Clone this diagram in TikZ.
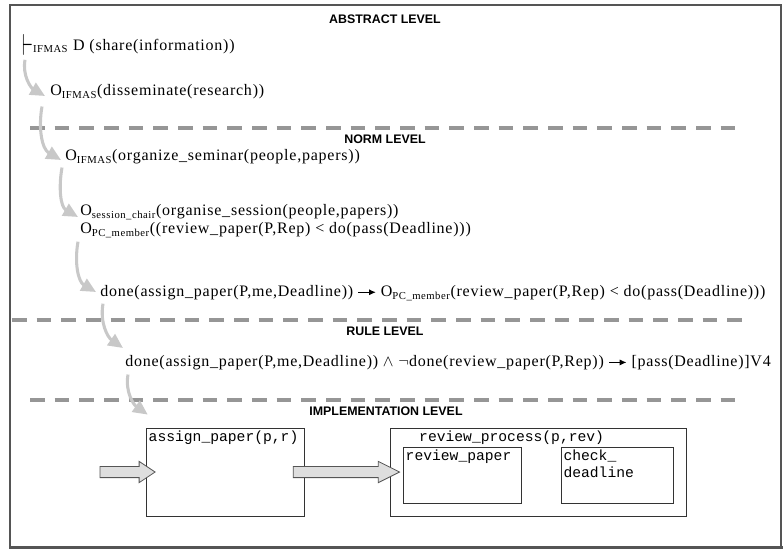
\documentclass[tikz,border=0pt]{standalone}
\usepackage{graphicx}
\usepackage{fontspec}
\setmainfont{Liberation Serif}[LetterSpace=4.8]
\setsansfont{Liberation Sans}
\setmonofont{Liberation Mono}
\usetikzlibrary{positioning,arrows.meta}
\definecolor{framegrey}{RGB}{85,85,85}
\definecolor{dashgrey}{RGB}{150,150,150}
\definecolor{flowgrey}{RGB}{200,200,200}
\definecolor{arrowfill}{RGB}{222,222,222}
\newcommand{\lsub}[1]{\textsubscript{#1}}
\newcommand{\thenarrow}{\tikz[baseline=-0.6ex]\draw[line width=0.6pt,-{Latex[length=5pt,width=4.5pt]}] (0,0) -- (13pt,0);}
% block arrow between two points at the same height
\newcommand{\blockarrow}[3]{%
  \filldraw[blockarr] ([yshift=4.2pt]#1) -- ([xshift=-#3,yshift=4.2pt]#2)
    -- ([xshift=-#3,yshift=8pt]#2) -- (#2) -- ([xshift=-#3,yshift=-8pt]#2)
    -- ([xshift=-#3,yshift=-4.2pt]#2) -- ([yshift=-4.2pt]#1) -- cycle;}
\tikzset{
  expr/.style={anchor=west, inner sep=0pt, font=\fontsize{12}{14}\selectfont},
  levelhead/.style={inner sep=0pt, font=\sffamily\bfseries\fontsize{9.3}{11}\selectfont},
  levelline/.style={dashgrey, line width=2.4pt, dash pattern=on 11pt off 7.5pt},
  flow/.style={draw=flowgrey, line width=2.3pt, -{Triangle[length=11pt,width=10pt]}},
  implbox/.style={draw=black!80, line width=0.6pt, inner sep=0pt},
  blockarr/.style={draw=framegrey, fill=arrowfill, line width=0.6pt},
  code/.style={font=\ttfamily\fontsize{11}{13}\selectfont, inner sep=2pt, align=left}
}
\begin{document}
\begin{tikzpicture}[x=0.75pt, y=-0.75pt]
  \useasboundingbox (0,0) rectangle (783,550);
  % frame
  \draw[framegrey, line width=1pt] (10,5) rectangle (781,548);
  \draw[framegrey, line width=2.4pt] (10,547.5) -- (783,547.5);
  % level separators
  \draw[levelline] (30,128) -- (745,128);
  \draw[levelline] (12,320) -- (745,320);
  \draw[levelline] (30,400) -- (745,400);
  % level names
  \node[levelhead] (abstract) at (385,19) {ABSTRACT LEVEL};
  \node[levelhead] (norm) at (385,139) {NORM LEVEL};
  \node[levelhead] (rule) at (385,331) {RULE LEVEL};
  \node[levelhead] (impl) at (386,411) {IMPLEMENTATION LEVEL};
  % expressions
  \node[expr] (share) at (22,45) {\raisebox{-4pt}{\scalebox{1.1}[1.9]{$\vdash$}}\lsub{IFMAS} D (share(information))};
  \node[expr] (dissem) at (50,92) {O\lsub{IFMAS}(disseminate(research))};
  \node[expr] (seminar) at (65,157) {O\lsub{IFMAS}(organize\_seminar(people,papers))};
  \node[expr] (session) at (80,212) {O\lsub{session\_chair}(organise\_session(people,papers))};
  \node[expr] (member) at (80,230) {O\lsub{PC\_member}((review\_paper(P,Rep) < do(pass(Deadline)))};
  \node[expr] (assign) at (100,293) {done(assign\_paper(P,me,Deadline)) \thenarrow{} O\lsub{PC\_member}(review\_paper(P,Rep) < do(pass(Deadline)))};
  \node[expr] (deadline) at (125,363) {done(assign\_paper(P,me,Deadline)) $\wedge$ $\neg$done(review\_paper(P,Rep)) \thenarrow{} [pass(Deadline)]V4};
  % implementation boxes
  \node[implbox, minimum width=119pt, minimum height=66pt,
    label={[code, anchor=north west]north west:assign\_paper(p,r)}] (ap) at (225.5,472) {};
  \node[implbox, minimum width=222pt, minimum height=66pt,
    label={[code, anchor=north west, xshift=20pt]north west:review\_process(p,rev)}] (proc) at (538,472) {};
  \node[implbox, minimum width=89pt, minimum height=42pt,
    label={[code, anchor=north west]north west:review\_paper}] (rp) at (462.5,475) {};
  \node[implbox, minimum width=84pt, minimum height=42pt,
    label={[code, anchor=north west]north west:check\_\\deadline}] (cd) at (617,475) {};
  % refinement flow
  \draw[flow] ([shift={(3,4)}]share.south west) to[out=-100,in=150] ([shift={(-5,4)}]dissem.west);
  \draw[flow] ([shift={(-8,7)}]dissem.south west) to[out=-100,in=150] ([shift={(-4,3)}]seminar.west);
  \draw[flow] ([shift={(-3,3)}]seminar.south west) to[out=-100,in=150] ([shift={(-2,5)}]session.west);
  \draw[flow] ([shift={(-2,4)}]member.south west) to[out=-100,in=150] ([shift={(-4,-1)}]assign.west);
  \draw[flow] ([shift={(3,3)}]assign.south west) to[out=-100,in=145] ([shift={(-2,-15)}]deadline.west);
  \draw[flow] ([shift={(3,4)}]deadline.south west) to[out=-100,in=145] ([shift={(2,-13)}]ap.north west);
  % process arrows
  \coordinate (start) at (100,472);
  \coordinate (apin) at ([xshift=7pt]ap.west);
  \coordinate (apout) at ([xshift=-9pt]ap.east);
  \coordinate (procin) at ([xshift=7.5pt]proc.west);
  \blockarrow{start}{apin}{12pt}
  \blockarrow{apout}{procin}{16pt}
\end{tikzpicture}
\end{document}
